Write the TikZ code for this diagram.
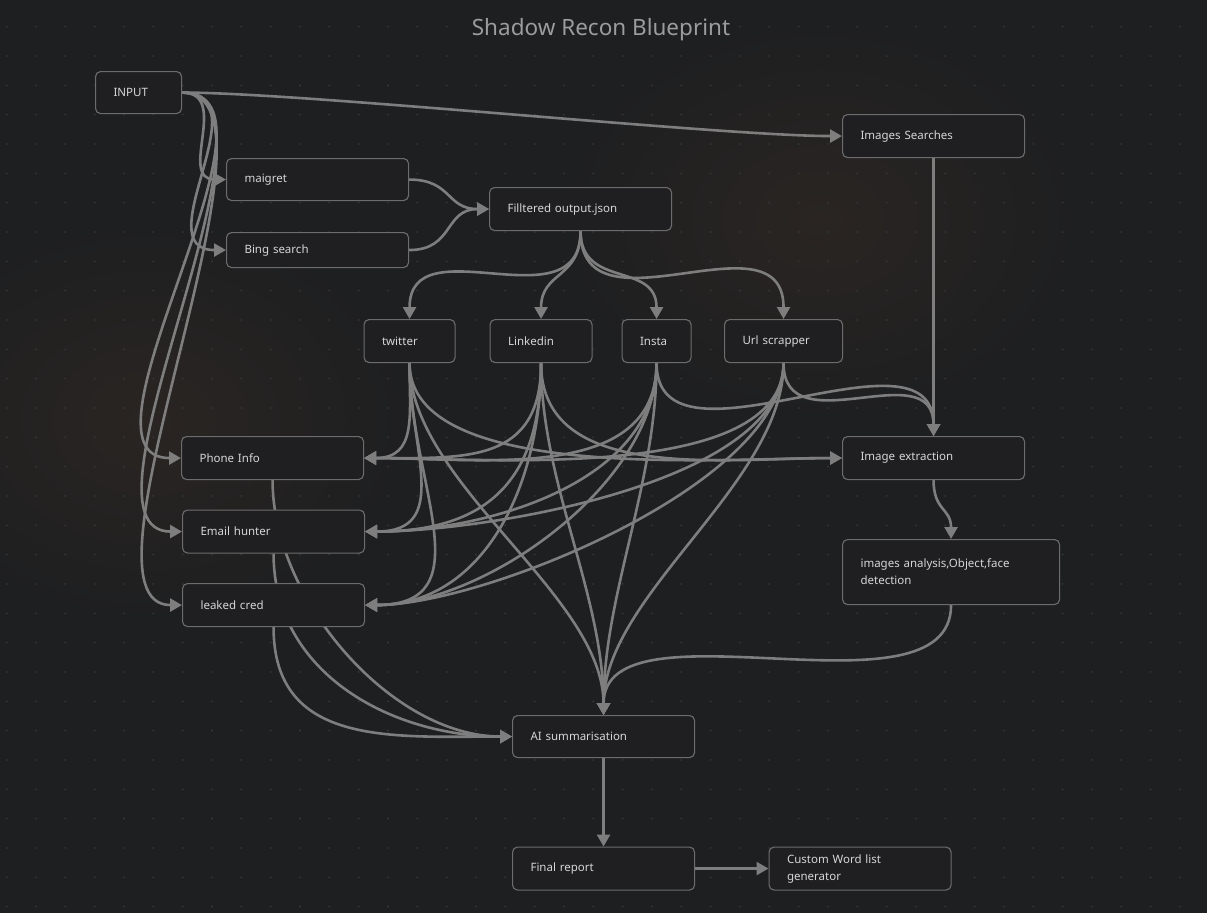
\documentclass[tikz,border=0pt]{standalone}
\usepackage{fontspec}
\setmainfont{Noto Sans}
\usetikzlibrary{arrows.meta}
\definecolor{bgc}{HTML}{1E1F21}
\definecolor{glow}{HTML}{2A2522}
\definecolor{dotc}{HTML}{3A3B3D}
\definecolor{nodefill}{HTML}{1F1F21}
\definecolor{nodeborder}{HTML}{6C6C6C}
\definecolor{nodetext}{HTML}{D6D6D6}
\definecolor{edgec}{HTML}{7E7E7E}
\definecolor{titlec}{HTML}{9C9C9C}
\pgfdeclarelayer{bg}
\pgfdeclarelayer{edges}
\pgfsetlayers{bg,edges,main}
\begin{document}
\begin{tikzpicture}[x=1pt,y=-1pt,
  box/.style={draw=nodeborder, fill=nodefill, rounded corners=5pt, line width=1.1pt,
    inner xsep=18pt, inner ysep=0pt, anchor=north west, align=left, text=nodetext,
    font=\fontsize{11.5}{17}\selectfont},
  edge/.style={draw=edgec, line width=2.6pt, -{Triangle[length=12pt,width=13pt]}},
  titlestyle/.style={font=\fontsize{22.5}{27}\selectfont, text=titlec}]
\useasboundingbox (0,0) rectangle (1207,913);
\begin{pgfonlayer}{bg}
  \fill[bgc] (0,0) rectangle (1207,913);
  \shade[inner color=glow, outer color=bgc] (150,420) ellipse (260pt and 200pt);
  \shade[inner color=glow, outer color=bgc] (820,220) ellipse (260pt and 200pt);
  \foreach \i in {0,...,41} {
    \foreach \j in {0,...,31} {
      \fill[dotc] (6.7+29.33*\i, 26.7+29.33*\j) circle (0.9pt);
    }
  }
\end{pgfonlayer}

\node[titlestyle] (title) at (601,30) {Shadow Recon Blueprint};

\node[box, text width=50pt, minimum height=42pt] (input) at (95,71) {INPUT};
\node[box, text width=146pt, minimum height=42pt] (maigret) at (226,158) {maigret};
\node[box, text width=146pt, minimum height=35pt] (bing) at (226,232) {Bing search};
\node[box, text width=146pt, minimum height=43pt] (filt) at (489,187) {Filltered output.json};
\node[box, text width=146pt, minimum height=43pt] (imgsearch) at (842,114) {Images Searches};
\node[box, text width=55pt, minimum height=43pt] (twitter) at (363.5,319) {twitter};
\node[box, text width=66pt, minimum height=43pt] (linkedin) at (489.5,319) {Linkedin};
\node[box, text width=33pt, minimum height=43pt] (insta) at (621.5,319) {Insta};
\node[box, text width=82pt, minimum height=43pt] (url) at (724,319) {Url scrapper};
\node[box, text width=146pt, minimum height=43pt] (phone) at (181,436) {Phone Info};
\node[box, text width=146pt, minimum height=43pt] (imgext) at (842,436) {Image extraction};
\node[box, text width=146pt, minimum height=43pt] (email) at (182,509.5) {Email hunter};
\node[box, text width=181pt, minimum height=65pt] (imgan) at (842,539) {images analysis,Object,face\\detection};
\node[box, text width=146pt, minimum height=43pt] (leaked) at (182,583) {leaked cred};
\node[box, text width=146pt, minimum height=42pt] (ai) at (512,715) {AI summarisation};
\node[box, text width=146pt, minimum height=43pt] (final) at (512,846.5) {Final report};
\node[box, text width=146pt, minimum height=43pt] (custom) at (768.5,846.5) {Custom Word list\\generator};

\begin{pgfonlayer}{edges}
  % from INPUT
  \draw[edge] (input.east) .. controls +(49,0) and +(-49,0) .. (maigret.west);
  \draw[edge] (input.east) .. controls +(82,0) and +(-82,0) .. (bing.west);
  \draw[edge] (input.east) .. controls +(120,0) and +(-120,0) .. (phone.west);
  \draw[edge] (input.east) .. controls +(120,0) and +(-120,0) .. (email.west);
  \draw[edge] (input.east) .. controls +(120,0) and +(-120,0) .. (leaked.west);
  \draw[edge] (input.east) .. controls +(120,0) and +(-120,0) .. (imgsearch.west);
  % to filtered output
  \draw[edge] (maigret.east) .. controls +(43,0) and +(-43,0) .. (filt.west);
  \draw[edge] (bing.east) .. controls +(45,0) and +(-45,0) .. (filt.west);
  % filtered output to sources
  \draw[edge] (filt.south) .. controls +(0,96) and +(0,-96) .. (twitter.north);
  \draw[edge] (filt.south) .. controls +(0,48) and +(0,-48) .. (linkedin.north);
  \draw[edge] (filt.south) .. controls +(0,58) and +(0,-58) .. (insta.north);
  \draw[edge] (filt.south) .. controls +(0,110) and +(0,-110) .. (url.north);
  % image search
  \draw[edge] (imgsearch.south) -- (imgext.north);
  % twitter
  \draw[edge] (twitter.south) .. controls +(0,53) and +(53,0) .. (phone.east);
  \draw[edge] (twitter.south) .. controls +(0,87) and +(87,0) .. (email.east);
  \draw[edge] (twitter.south) .. controls +(0,120) and +(120,0) .. (leaked.east);
  \draw[edge] (twitter.south) .. controls +(0,120) and +(0,-120) .. (ai.north);
  \draw[edge] (twitter.south) .. controls +(0,120) and +(-120,0) .. (imgext.west);
  % linkedin
  \draw[edge] (linkedin.south) .. controls +(0,101) and +(101,0) .. (phone.east);
  \draw[edge] (linkedin.south) .. controls +(0,120) and +(120,0) .. (email.east);
  \draw[edge] (linkedin.south) .. controls +(0,120) and +(120,0) .. (leaked.east);
  \draw[edge] (linkedin.south) .. controls +(0,120) and +(0,-120) .. (ai.north);
  \draw[edge] (linkedin.south) .. controls +(0,120) and +(-120,0) .. (imgext.west);
  % insta
  \draw[edge] (insta.south) .. controls +(0,120) and +(120,0) .. (phone.east);
  \draw[edge] (insta.south) .. controls +(0,120) and +(120,0) .. (email.east);
  \draw[edge] (insta.south) .. controls +(0,120) and +(120,0) .. (leaked.east);
  \draw[edge] (insta.south) .. controls +(0,120) and +(0,-120) .. (ai.north);
  \draw[edge] (insta.south) .. controls +(0,120) and +(0,-120) .. (imgext.north);
  % url scrapper
  \draw[edge] (url.south) .. controls +(0,120) and +(120,0) .. (phone.east);
  \draw[edge] (url.south) .. controls +(0,120) and +(120,0) .. (email.east);
  \draw[edge] (url.south) .. controls +(0,120) and +(120,0) .. (leaked.east);
  \draw[edge] (url.south) .. controls +(0,120) and +(0,-120) .. (ai.north);
  \draw[edge] (url.south) .. controls +(0,84) and +(0,-84) .. (imgext.north);
  % image pipeline
  \draw[edge] (imgext.south) .. controls +(0,31) and +(0,-31) .. (imgan.north);
  \draw[edge] (imgan.south) .. controls +(0,120) and +(0,-120) .. (ai.north);
  % contact info to AI
  \draw[edge] (phone.south) .. controls +(0,120) and +(-120,0) .. (ai.west);
  \draw[edge] (email.south) .. controls +(0,120) and +(-120,0) .. (ai.west);
  \draw[edge] (leaked.south) .. controls +(0,120) and +(-120,0) .. (ai.west);
  % final
  \draw[edge] (ai.south) -- (final.north);
  \draw[edge] (final.east) -- (custom.west);
\end{pgfonlayer}
\end{tikzpicture}
\end{document}
